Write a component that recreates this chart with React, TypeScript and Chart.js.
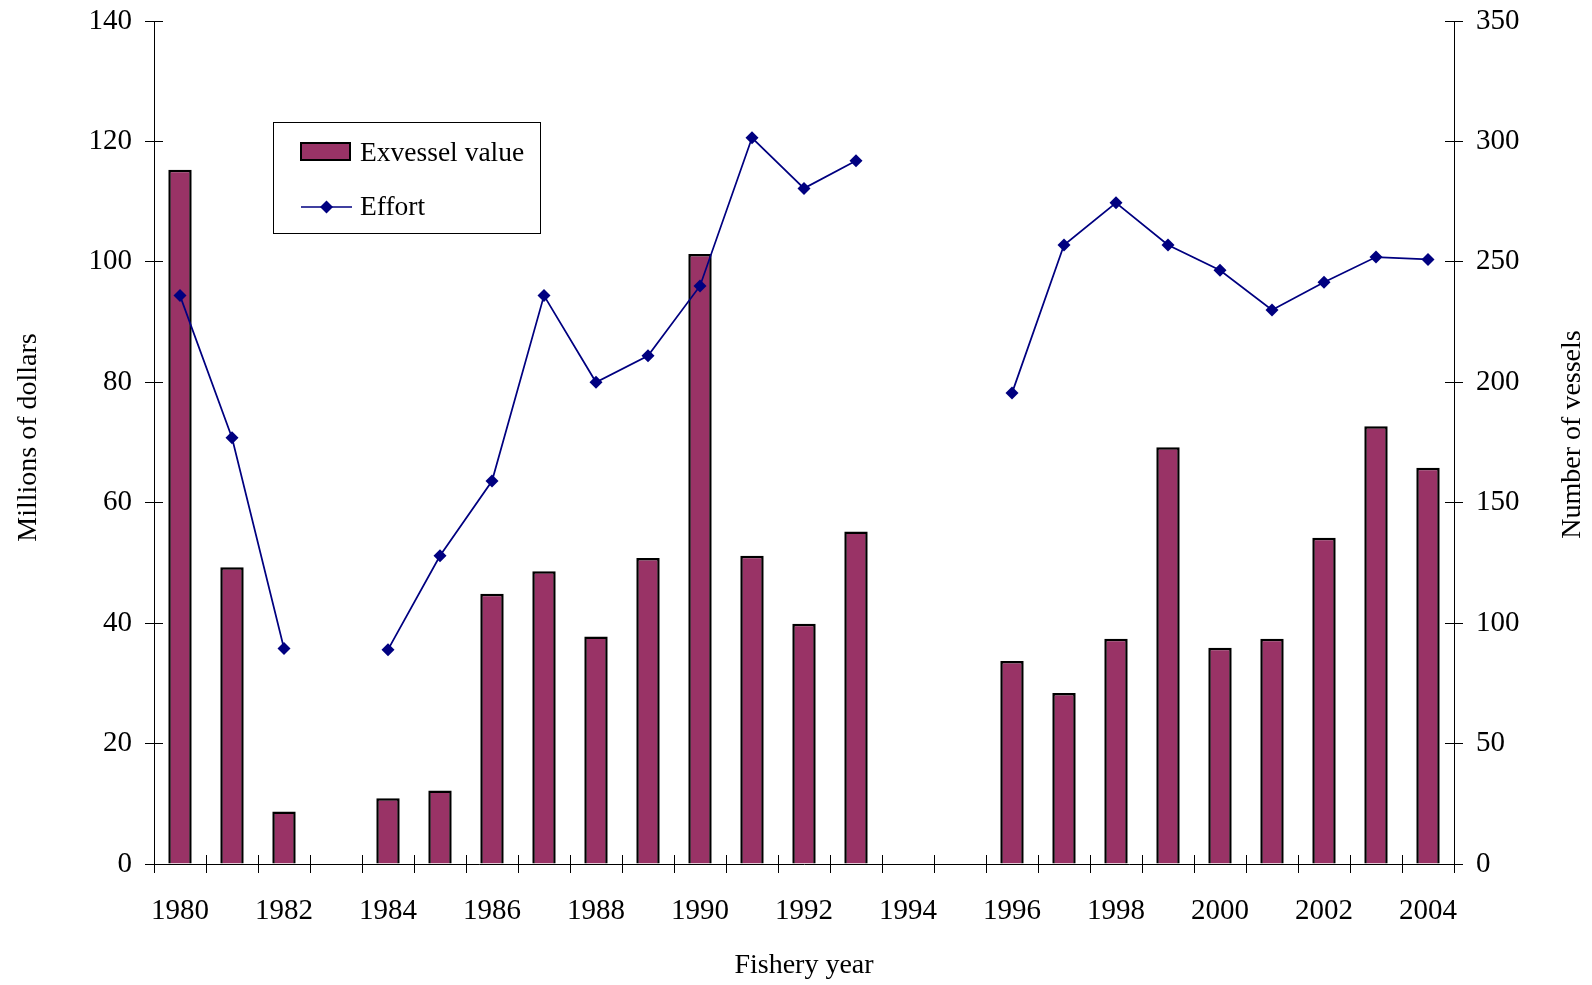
import React, { useEffect, useRef } from 'react';
import { Chart, registerables } from 'chart.js';

Chart.register(...registerables);

const years = [
  '1980', '1981', '1982', '1983', '1984', '1985', '1986', '1987', '1988', '1989',
  '1990', '1991', '1992', '1993', '1994', '1995', '1996', '1997', '1998', '1999',
  '2000', '2001', '2002', '2003', '2004',
];

// Millions of dollars
const exvesselValue: (number | null)[] = [
  115.3, 49.3, 8.7, null, 10.9, 12.2, 44.9, 48.6, 37.8, 50.8,
  101.3, 51.2, 39.9, 55.2, null, null, 33.7, 28.4, 37.4, 69.2,
  35.9, 37.4, 54.2, 72.7, 65.8,
];

// Number of vessels
const effort: (number | null)[] = [
  236, 177, 89.5, null, 89, 128, 159, 236, 200, 211,
  240, 301.5, 280.5, 292, null, null, 195.5, 257, 274.5, 257,
  246.5, 230, 241.5, 252, 251,
];

const leftAxisMax = 140;
const leftAxisStep = 20;
const rightAxisMax = 350;
const rightAxisStep = 50;

const seriesNames = ['Exvessel value', 'Effort'];
const axisTitles = { x: 'Fishery year', left: 'Millions of dollars', right: 'Number of vessels' };

const BAR_COLOR = '#993366';
const LINE_COLOR = '#000080';
const FONT = "'Liberation Serif', 'Times New Roman', serif";
const TICK_LEN = 9;

const align = (p: number) => Math.round(p - 0.5) + 0.5;

const crossTicksPlugin = {
  id: 'crossTicks',
  afterDraw(chart: any) {
    const { ctx, chartArea, scales } = chart;
    ctx.save();
    ctx.strokeStyle = '#000';
    ctx.lineWidth = 1;
    ctx.beginPath();
    const y = scales.y;
    y.ticks.forEach((t: any) => {
      const py = align(y.getPixelForValue(t.value));
      ctx.moveTo(chartArea.left, py);
      ctx.lineTo(chartArea.left + TICK_LEN, py);
    });
    const y1 = scales.y1;
    y1.ticks.forEach((t: any) => {
      const py = align(y1.getPixelForValue(t.value));
      ctx.moveTo(chartArea.right - TICK_LEN, py);
      ctx.lineTo(chartArea.right, py);
    });
    const x = scales.x;
    for (let i = 0; i <= years.length; i++) {
      const px = align(x.getPixelForValue(i - 0.5));
      ctx.moveTo(px, chartArea.bottom - TICK_LEN);
      ctx.lineTo(px, chartArea.bottom);
    }
    ctx.stroke();
    ctx.restore();
  },
};

const titlesPlugin = {
  id: 'customTitles',
  afterDraw(chart: any) {
    const { ctx, chartArea } = chart;
    ctx.save();
    ctx.fillStyle = '#000';
    ctx.font = `28px ${FONT}`;
    ctx.textAlign = 'center';
    ctx.textBaseline = 'alphabetic';
    ctx.fillText(axisTitles.x, (chartArea.left + chartArea.right) / 2, 973);

    ctx.save();
    ctx.translate(36, 437.5);
    ctx.rotate(-Math.PI / 2);
    ctx.fillText(axisTitles.left, 0, 0);
    ctx.restore();

    ctx.save();
    ctx.translate(1580, 434.5);
    ctx.rotate(-Math.PI / 2);
    ctx.fillText(axisTitles.right, 0, 0);
    ctx.restore();
    ctx.restore();
  },
};

const legendPlugin = {
  id: 'boxLegend',
  afterDraw(chart: any) {
    const { ctx } = chart;
    ctx.save();
    ctx.strokeStyle = '#000';
    ctx.lineWidth = 1;
    ctx.strokeRect(273.5, 122.5, 267, 111);
    ctx.fillStyle = BAR_COLOR;
    ctx.fillRect(301, 143, 49, 17);
    ctx.lineWidth = 2;
    ctx.strokeRect(301, 143, 49, 17);
    ctx.strokeStyle = LINE_COLOR;
    ctx.lineWidth = 1.5;
    ctx.beginPath();
    ctx.moveTo(301, 207);
    ctx.lineTo(352, 207);
    ctx.stroke();
    ctx.fillStyle = LINE_COLOR;
    ctx.beginPath();
    const cx = 326.5, cy = 207, r = 6.5;
    ctx.moveTo(cx - r, cy);
    ctx.lineTo(cx, cy - r);
    ctx.lineTo(cx + r, cy);
    ctx.lineTo(cx, cy + r);
    ctx.closePath();
    ctx.fill();
    ctx.fillStyle = '#000';
    ctx.font = `27.5px ${FONT}`;
    ctx.textAlign = 'left';
    ctx.textBaseline = 'alphabetic';
    ctx.fillText(seriesNames[0], 360, 161);
    ctx.fillText(seriesNames[1], 360, 215);
    ctx.restore();
  },
};

export default function App() {
  const canvasRef = useRef<HTMLCanvasElement | null>(null);

  useEffect(() => {
    const canvas = canvasRef.current;
    if (!canvas) return;
    const tickFont = { family: FONT, size: 29 };
    const chart = new Chart(canvas, {
      type: 'bar',
      data: {
        labels: years,
        datasets: [
          {
            type: 'line',
            label: seriesNames[1],
            data: effort,
            yAxisID: 'y1',
            borderColor: LINE_COLOR,
            backgroundColor: LINE_COLOR,
            borderWidth: 1.75,
            pointStyle: 'rectRot',
            pointRadius: 6.5,
            pointBackgroundColor: LINE_COLOR,
            pointBorderColor: LINE_COLOR,
            pointBorderWidth: 0,
            spanGaps: false,
            tension: 0,
            order: 0,
          } as any,
          {
            type: 'bar',
            label: seriesNames[0],
            data: exvesselValue,
            yAxisID: 'y',
            backgroundColor: BAR_COLOR,
            borderColor: '#000',
            borderWidth: 2.5,
            barPercentage: 0.45,
            categoryPercentage: 1,
            order: 1,
          } as any,
        ],
      },
      options: {
        animation: false,
        responsive: true,
        maintainAspectRatio: false,
        layout: { padding: { top: 21, left: 0, right: 0, bottom: 0 } },
        plugins: {
          legend: { display: false },
          tooltip: { enabled: false },
          title: { display: false },
        },
        scales: {
          x: {
            type: 'category',
            offset: true,
            grid: {
              display: true,
              offset: true,
              drawOnChartArea: false,
              drawTicks: true,
              tickLength: TICK_LEN,
              color: '#000',
              lineWidth: 1,
            },
            border: { display: true, color: '#000', width: 1 },
            ticks: {
              autoSkip: false,
              maxRotation: 0,
              minRotation: 0,
              padding: 21,
              color: '#000',
              font: tickFont,
              callback: (_v: any, i: number) => (i % 2 === 0 ? years[i] : ''),
            },
            afterFit: (s: any) => {
              s.height = 121;
              s.paddingLeft = 0;
              s.paddingRight = 0;
            },
          },
          y: {
            type: 'linear',
            position: 'left',
            min: 0,
            max: leftAxisMax,
            grid: {
              display: true,
              drawOnChartArea: false,
              drawTicks: true,
              tickLength: TICK_LEN,
              color: '#000',
              lineWidth: 1,
            },
            border: { display: true, color: '#000', width: 1 },
            ticks: { stepSize: leftAxisStep, padding: 13, color: '#000', font: tickFont },
            afterFit: (s: any) => {
              s.width = 154;
              s.paddingTop = 0;
              s.paddingBottom = 0;
            },
          },
          y1: {
            type: 'linear',
            position: 'right',
            min: 0,
            max: rightAxisMax,
            grid: {
              display: true,
              drawOnChartArea: false,
              drawTicks: true,
              tickLength: TICK_LEN,
              color: '#000',
              lineWidth: 1,
            },
            border: { display: true, color: '#000', width: 1 },
            ticks: { stepSize: rightAxisStep, padding: 13, color: '#000', font: tickFont },
            afterFit: (s: any) => {
              s.width = 138;
              s.paddingTop = 0;
              s.paddingBottom = 0;
            },
          },
        },
      },
      plugins: [crossTicksPlugin, titlesPlugin, legendPlugin],
    });
    return () => chart.destroy();
  }, []);

  return (
    <div
      style={{
        position: 'fixed',
        left: 0,
        top: 0,
        width: '1592px',
        height: '985px',
        background: '#fff',
      }}
    >
      <canvas ref={canvasRef} />
    </div>
  );
}
